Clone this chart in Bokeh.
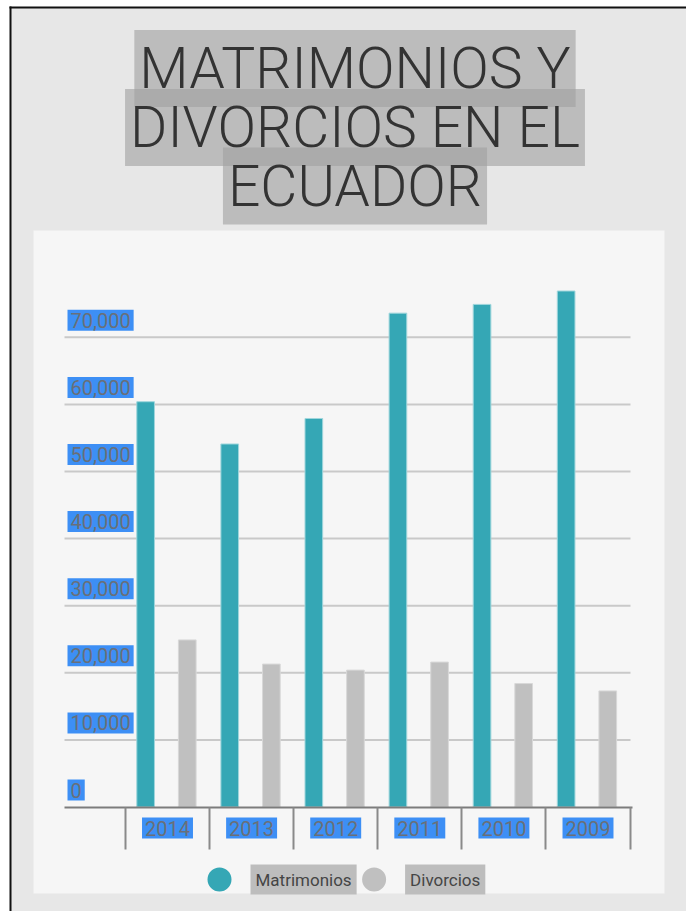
from bokeh.plotting import figure
from bokeh.models import Range1d, FixedTicker, LinearAxis, ColumnDataSource
from bokeh.transform import dodge
from bokeh.core.properties import value
from bokeh.embed import file_html
from bokeh.resources import INLINE

# ---------------- data ----------------
years = ["2014", "2013", "2012", "2011", "2010", "2009"]
matrimonios = [60400, 54100, 57900, 73600, 74900, 76900]
divorcios = [24900, 21300, 20400, 21600, 18400, 17300]
y_ticks = [0, 10000, 20000, 30000, 40000, 50000, 60000, 70000]
y_tick_labels = ["0", "10,000", "20,000", "30,000", "40,000", "50,000", "60,000", "70,000"]
series_names = ["Matrimonios", "Divorcios"]
series_colors = ["#35a7b5", "#c0c0c0"]
title_lines = ["MATRIMONIOS Y", "DIVORCIOS EN EL", "ECUADOR"]

# ---------------- layout constants (canvas pixels, y from top) ----------------
W, H = 686, 911
CAT_W = 84.1            # px per category
CAT0_X = 167.0          # centre of first category
ZERO_Y = 806.5          # value 0
PX_PER_UNIT = 67.1 / 10000

x_start = -CAT0_X / CAT_W
x_end = x_start + W / CAT_W
y_start = -(H - ZERO_Y) / PX_PER_UNIT
y_end = y_start + H / PX_PER_UNIT


def xd(px):
    return x_start + px / CAT_W


def yd(py):
    return y_start + (H - py) / PX_PER_UNIT


FONT = value("Roboto")
TITLE_FONT = value("Roboto Light")

p = figure(width=W, height=H, output_backend="svg", toolbar_location=None,
           x_range=Range1d(x_start, x_end), y_range=Range1d(y_start, y_end),
           x_axis_location=None, y_axis_location=None,
           min_border=0, background_fill_color="#ffffff", border_fill_color="#ffffff",
           outline_line_color=None)
p.grid.visible = False

# page background, chart panel
p.quad(left=[xd(10), xd(33)], right=[xd(W), xd(664)], top=[yd(7), yd(230)],
       bottom=[yd(H), yd(893)], fill_color=["#e7e7e7", "#f6f6f6"], line_color=None,
       level="image")
# black frame lines (screenshot border)
p.segment(x0=[xd(10), xd(9)], y0=[yd(6), yd(7)], x1=[xd(10), xd(W)], y1=[yd(H), yd(7)],
          line_color="#111111", line_width=2, level="image")

idx = list(range(len(years)))
src = ColumnDataSource(dict(idx=idx, year=years, mat=matrimonios, div=divorcios))

gx0, gx1, ax1 = xd(64), xd(630), xd(632)

# gridlines
p.segment(x0=[gx0] * 7, x1=[gx1] * 7, y0=y_ticks[1:], y1=y_ticks[1:],
          line_color="#c9c9c9", line_width=2, level="underlay")

# bars
p.vbar(x=dodge("idx", -0.26, range=p.x_range), top="mat", bottom=0, width=0.21, source=src,
       fill_color=series_colors[0], line_color="#9fd6dc", line_width=1)
p.vbar(x=dodge("idx", 0.235, range=p.x_range), top="div", bottom=0, width=0.21, source=src,
       fill_color=series_colors[1], line_color="#d8d8d8", line_width=1)

# x axis line + category separators
seps = [i - 0.5 for i in range(len(years) + 1)]
xaxis = LinearAxis(fixed_location=0, ticker=FixedTicker(ticks=seps, minor_ticks=[]),
                   bounds=(gx0, ax1),
                   axis_line_color="#7c7c7c", axis_line_width=2,
                   major_tick_line_color="#8a8a8a", major_tick_line_width=2,
                   major_tick_in=42, major_tick_out=0,
                   minor_tick_line_color=None, major_label_text_alpha=0)
p.add_layout(xaxis, "above")

# y tick labels
p.text(x=[gx0] * len(y_ticks), y=y_ticks, text=y_tick_labels,
       text_font=FONT, text_font_size="20px", text_color="#6a6f78",
       text_align="left", text_baseline="middle", y_offset=-17, x_offset=3,
       background_fill_color="#3d8ff5", padding=3)

# x tick labels
p.text(x="idx", y=0, text="year", source=src,
       text_font=FONT, text_font_size="20px", text_color="#6a6f78",
       text_align="center", text_baseline="middle", y_offset=21,
       background_fill_color="#3d8ff5", padding=3)

# legend (manual)
leg_x = [xd(219), xd(373.6)]
leg_y = [yd(879)] * len(series_names)
p.scatter(x=leg_x, y=leg_y, size=24, marker="circle",
          fill_color=series_colors, line_color=None)
p.text(x=leg_x, y=leg_y, text=series_names, x_offset=31,
       text_font=FONT, text_font_size="17px", text_color="#454545",
       text_align="left", text_baseline="middle",
       background_fill_color="#bdbdbd", padding=5)

# title lines
p.text(x=[xd(354.5)] * 3, y=[yd(68), yd(127), yd(185.5)], text=title_lines,
       text_font=TITLE_FONT, text_font_size="57px", text_color="#333333",
       text_align="center", text_baseline="middle",
       background_fill_color="#a0a0a0", background_fill_alpha=0.6, padding=5)

open("out.html", "w").write(file_html(p, INLINE))
